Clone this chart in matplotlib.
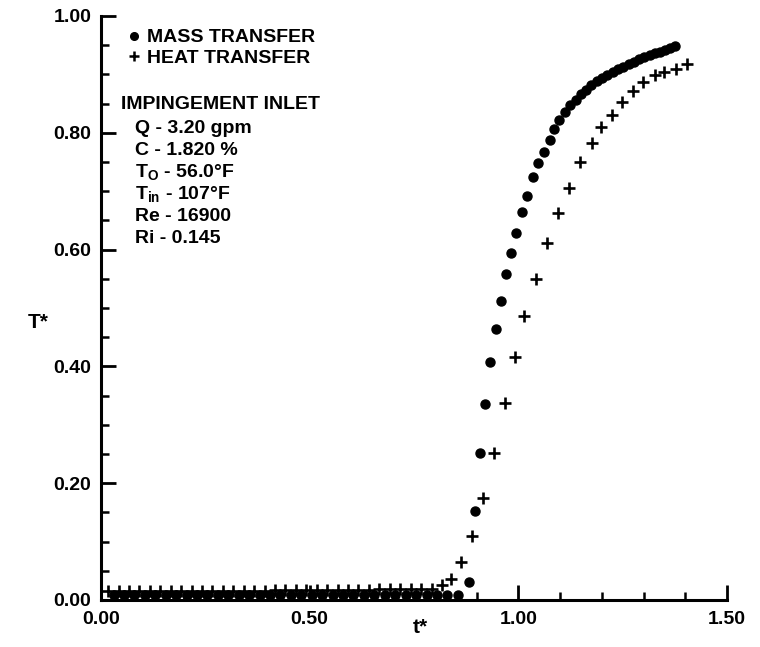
import matplotlib
matplotlib.use("Agg")
import matplotlib.pyplot as plt
from matplotlib.lines import Line2D
from matplotlib.ticker import MultipleLocator

plt.rcParams["font.family"] = ["Liberation Sans", "DejaVu Sans"]
plt.rcParams["font.weight"] = "bold"
plt.rcParams["mathtext.fontset"] = "custom"
plt.rcParams["mathtext.rm"] = "Liberation Sans:bold"
plt.rcParams["mathtext.it"] = "Liberation Sans:bold"
plt.rcParams["mathtext.bf"] = "Liberation Sans:bold"

# mass transfer (dots): flat baseline, then the rise
mass_t = [0.030, 0.055, 0.080, 0.105, 0.130, 0.155, 0.180, 0.205, 0.230, 0.255,
          0.280, 0.305, 0.330, 0.355, 0.380, 0.405, 0.430, 0.455, 0.480, 0.505,
          0.530, 0.555, 0.580, 0.605, 0.630, 0.655, 0.680, 0.705, 0.730, 0.755,
          0.780, 0.805, 0.830, 0.855,
          0.882, 0.896, 0.908, 0.920, 0.932, 0.947, 0.959, 0.971, 0.983, 0.995,
          1.009, 1.021, 1.035, 1.047, 1.062, 1.076, 1.086, 1.098, 1.112, 1.124,
          1.137, 1.150, 1.162, 1.175, 1.188, 1.200, 1.213, 1.226, 1.238, 1.251,
          1.264, 1.277, 1.290, 1.302, 1.315, 1.328, 1.340, 1.352, 1.364, 1.376]
mass_T = [0.008, 0.008, 0.008, 0.008, 0.008, 0.008, 0.008, 0.008, 0.008, 0.008,
          0.008, 0.008, 0.008, 0.008, 0.008, 0.008, 0.008, 0.008, 0.008, 0.008,
          0.008, 0.008, 0.008, 0.008, 0.008, 0.008, 0.008, 0.008, 0.008, 0.008,
          0.008, 0.008, 0.008, 0.009,
          0.031, 0.152, 0.252, 0.336, 0.408, 0.464, 0.512, 0.558, 0.594, 0.628,
          0.664, 0.692, 0.724, 0.748, 0.767, 0.788, 0.807, 0.822, 0.836, 0.847,
          0.857, 0.866, 0.874, 0.881, 0.888, 0.894, 0.899, 0.904, 0.909, 0.913,
          0.918, 0.922, 0.927, 0.930, 0.933, 0.936, 0.939, 0.942, 0.945, 0.948]

# heat transfer (crosses)
heat_t = [0.017, 0.042, 0.067, 0.092, 0.117, 0.142, 0.167, 0.192, 0.217, 0.242,
          0.267, 0.292, 0.317, 0.342, 0.367, 0.392, 0.417, 0.442, 0.467, 0.492,
          0.517, 0.542, 0.567, 0.592, 0.617, 0.642, 0.667, 0.692, 0.717, 0.742,
          0.767, 0.792,
          0.817, 0.839, 0.863, 0.889, 0.915, 0.942, 0.968, 0.992, 1.014, 1.042,
          1.069, 1.095, 1.121, 1.148, 1.177, 1.198, 1.225, 1.249, 1.275, 1.299,
          1.328, 1.349, 1.378, 1.404]
heat_T = [0.016, 0.016, 0.016, 0.016, 0.016, 0.016, 0.016, 0.016, 0.016, 0.016,
          0.016, 0.016, 0.016, 0.016, 0.016, 0.016, 0.017, 0.017, 0.017, 0.017,
          0.017, 0.017, 0.017, 0.017, 0.017, 0.017, 0.018, 0.018, 0.018, 0.018,
          0.018, 0.019,
          0.026, 0.036, 0.065, 0.110, 0.175, 0.252, 0.337, 0.416, 0.486, 0.550,
          0.611, 0.663, 0.705, 0.750, 0.783, 0.810, 0.830, 0.853, 0.872, 0.887,
          0.899, 0.904, 0.909, 0.918]

legend_labels = ["MASS TRANSFER", "HEAT TRANSFER"]
conditions = ["IMPINGEMENT INLET",
              "Q - 3.20 gpm",
              "C - 1.820 %",
              r"T$_{O}$ - 56.0°F",
              r"T$_{in}$ - 107°F",
              "Re - 16900",
              "Ri - 0.145"]

fig = plt.figure(figsize=(7.6, 6.47), dpi=100)
ax = fig.add_axes([101 / 760, 47 / 647, 626 / 760, 584 / 647])

ax.plot(mass_t, mass_T, ls="none", marker="o", ms=6.5, color="black", clip_on=False)
ax.plot(heat_t, heat_T, ls="none", marker="+", ms=9, mew=1.9, color="black", clip_on=False)

ax.set_xlim(0, 1.5)
ax.set_ylim(0, 1.0)
ax.xaxis.set_major_locator(MultipleLocator(0.5))
ax.xaxis.set_minor_locator(MultipleLocator(0.1))
ax.yaxis.set_major_locator(MultipleLocator(0.2))
ax.yaxis.set_minor_locator(MultipleLocator(0.05))
ax.xaxis.set_major_formatter(lambda v, p: f"{v:.2f}")
ax.yaxis.set_major_formatter(lambda v, p: f"{v:.2f}")

for s in ["top", "right"]:
    ax.spines[s].set_visible(False)
for s in ["left", "bottom"]:
    ax.spines[s].set_linewidth(2.2)

ax.tick_params(which="major", direction="in", length=11, width=2, labelsize=14, pad=7)
ax.tick_params(which="minor", direction="in", length=6, width=1.8)
ax.tick_params(axis="x", which="major", pad=8)
for lbl in ax.get_xticklabels() + ax.get_yticklabels():
    lbl.set_fontweight("bold")

ax.set_xlabel("t*", fontsize=15, fontweight="bold")
ax.xaxis.set_label_coords(0.51, -0.03)
ax.set_ylabel("T*", fontsize=15, fontweight="bold", rotation=0, ha="center", va="center")
ax.yaxis.set_label_coords(-0.10, 0.476)

handles = [Line2D([], [], ls="none", marker="o", ms=5.5, color="black"),
           Line2D([], [], ls="none", marker="+", ms=7, mew=1.8, color="black")]
ax.legend(handles, legend_labels, loc="upper left", bbox_to_anchor=(0.043, 0.978),
          frameon=False, handlelength=0.6, handletextpad=0.4, labelspacing=0.15,
          prop={"size": 14, "weight": "bold"}, borderaxespad=0, borderpad=0)

ax.text(0.032, 0.849, conditions[0], transform=ax.transAxes, fontsize=14,
        fontweight="bold", va="center")
for i, line in enumerate(conditions[1:]):
    ax.text(0.054, 0.808 - i * 0.0377, line, transform=ax.transAxes, fontsize=14,
            fontweight="bold", va="center")

fig.savefig("out.png", dpi=100)
